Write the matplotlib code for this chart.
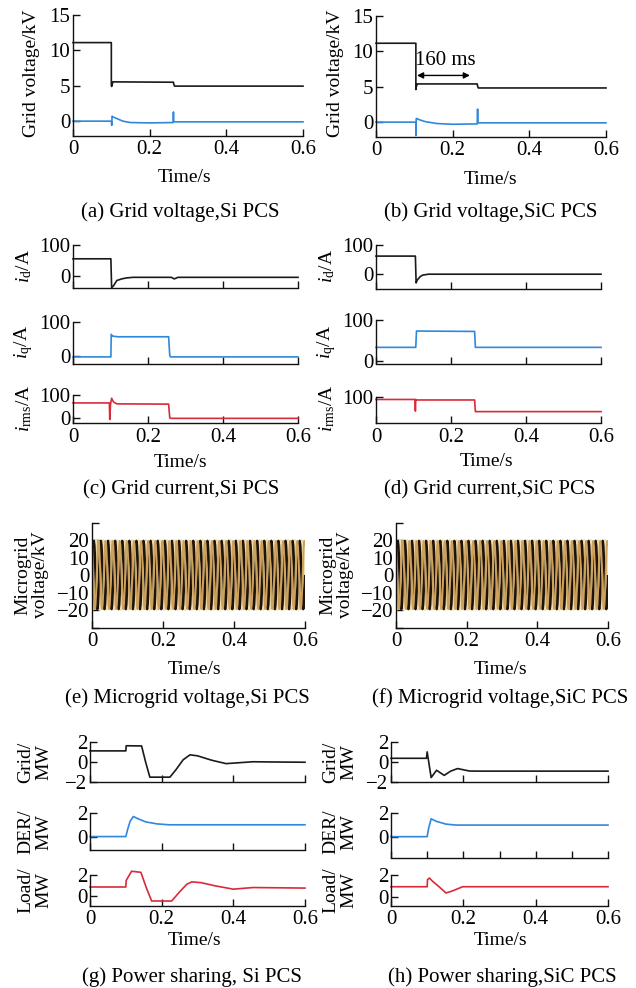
import matplotlib
matplotlib.use("Agg")
import matplotlib.pyplot as plt
import numpy as np

plt.rcParams["font.family"] = ["Liberation Serif", "DejaVu Serif"]
plt.rcParams["mathtext.fontset"] = "custom"
plt.rcParams["mathtext.rm"] = "Liberation Serif"
plt.rcParams["mathtext.it"] = "Liberation Serif:italic"
plt.rcParams["axes.unicode_minus"] = True

# ---------------------------------------------------------------- data
# (a) grid voltage, Si PCS  [s, kV]
si_vg_t = [0, 0.100, 0.100, 0.101, 0.104, 0.262, 0.263, 0.265, 0.6]
si_vg_v = [11.1, 11.1, 5.0, 4.9, 5.55, 5.5, 5.2, 4.95, 4.95]
si_vd_t = [0, 0.100, 0.101, 0.102, 0.104, 0.115, 0.13, 0.15, 0.20, 0.261, 0.262, 0.263, 0.265, 0.6]
si_vd_v = [0, 0, -0.6, 0.7, 0.6, 0.35, 0.0, -0.2, -0.25, -0.2, 1.3, -0.1, -0.1, -0.1]

# (b) grid voltage, SiC PCS
sic_vg_t = [0, 0.104, 0.104, 0.105, 0.108, 0.264, 0.265, 0.267, 0.6]
sic_vg_v = [11.15, 11.15, 4.6, 5.0, 5.4, 5.4, 5.1, 4.83, 4.83]
sic_vd_t = [0, 0.104, 0.104, 0.105, 0.107, 0.115, 0.13, 0.16, 0.20, 0.264, 0.265, 0.266, 0.268, 0.6]
sic_vd_v = [0, 0, -1.9, 0.5, 0.5, 0.3, 0.05, -0.2, -0.3, -0.25, 1.85, -0.1, -0.1, -0.1]
arrow_span_s = [0.107, 0.245]

# (c) grid current, Si PCS  [s, A]
si_id_t = [0, 0.101, 0.103, 0.108, 0.117, 0.13, 0.142, 0.16, 0.262, 0.27, 0.28, 0.6]
si_id_v = [56, 56, -36, -30, -13, -8, -5, -3, -3, -8, -3, -3]
si_iq_t = [0, 0.101, 0.102, 0.105, 0.12, 0.255, 0.258, 0.26, 0.6]
si_iq_v = [-2, -2, 63, 58, 56, 56, 2, -2, -2]
si_irms_t = [0, 0.097, 0.098, 0.100, 0.103, 0.108, 0.117, 0.255, 0.258, 0.262, 0.6]
si_irms_v = [66, 66, -5, 60, 86, 70, 62, 61, 2, 0, 0]

# (d) grid current, SiC PCS
sic_id_t = [0, 0.105, 0.107, 0.11, 0.118, 0.125, 0.14, 0.6]
sic_id_v = [62, 62, -30, -20, -8, -3, 0, 0]
sic_iq_t = [0, 0.106, 0.108, 0.263, 0.265, 0.6]
sic_iq_v = [33, 33, 73, 72, 33, 33]
sic_irms_t = [0, 0.104, 0.105, 0.106, 0.108, 0.263, 0.265, 0.6]
sic_irms_v = [92, 92, 45, 92, 90, 90, 43, 43]

# (e)/(f) microgrid three-phase voltage: one 20 ms period sampled every 30 deg  [kV]
mg_cycle_kv = [0, 9.8, 16.9, 19.5, 16.9, 9.8, 0, -9.8, -16.9, -19.5, -16.9, -9.8]
mg_period_s = 0.02
mg_cycles = 30

# (g) power sharing, Si PCS  [s, MW]
si_pg_t = [0, 0.1, 0.101, 0.144, 0.155, 0.167, 0.223, 0.24, 0.26, 0.279, 0.3, 0.34, 0.38, 0.455, 0.5, 0.6]
si_pg_v = [1.1, 1.1, 1.62, 1.6, 0.0, -1.56, -1.56, -0.8, 0.2, 0.7, 0.6, 0.15, -0.19, 0.0, -0.02, -0.05]
si_der_t = [0, 0.1, 0.105, 0.112, 0.121, 0.135, 0.155, 0.186, 0.22, 0.6]
si_der_v = [0, 0, 0.6, 1.3, 1.7, 1.5, 1.25, 1.08, 1.0, 1.0]
si_load_t = [0, 0.1, 0.101, 0.116, 0.142, 0.157, 0.172, 0.228, 0.25, 0.27, 0.284, 0.31, 0.35, 0.4, 0.455, 0.6]
si_load_v = [0.85, 0.85, 1.45, 2.3, 2.2, 0.8, -0.44, -0.44, 0.4, 1.1, 1.32, 1.25, 0.95, 0.65, 0.8, 0.75]

# (h) power sharing, SiC PCS
sic_pg_t = [0, 0.098, 0.1, 0.111, 0.126, 0.147, 0.165, 0.184, 0.217, 0.25, 0.6]
sic_pg_v = [0.35, 0.35, 1.0, -1.6, -0.86, -1.38, -0.95, -0.69, -0.94, -0.95, -0.95]
sic_der_t = [0, 0.1, 0.104, 0.111, 0.125, 0.152, 0.18, 0.6]
sic_der_v = [0, 0, 0.7, 1.51, 1.3, 1.06, 0.98, 0.98]
sic_load_t = [0, 0.1, 0.101, 0.106, 0.115, 0.13, 0.152, 0.17, 0.198, 0.6]
sic_load_v = [0.92, 0.92, 1.54, 1.69, 1.4, 1.0, 0.37, 0.55, 0.92, 0.92]

x_ticks = [0, 0.2, 0.4, 0.6]
x_tick_labels = ["0", "0.2", "0.4", "0.6"]

captions = [
    "(a) Grid voltage,Si PCS", "(b) Grid voltage,SiC PCS",
    "(c) Grid current,Si PCS", "(d) Grid current,SiC PCS",
    "(e) Microgrid voltage,Si PCS", "(f) Microgrid voltage,SiC PCS",
    "(g) Power sharing, Si PCS", "(h) Power sharing,SiC PCS",
]

# ---------------------------------------------------------------- style
BLACK = "#1a1a1a"
BLUE = "#2f88dc"
RED = "#d92a3a"
# phases in drawing order
MG_COLORS = ["#f0ddb0", "#1c140a", "#cda05c"]
MG_LW = [2.4, 1.8, 1.4]
TICK_FS = 15
LABEL_FS = 14
CAP_FS = 15
LW = 1.2

W, H = 636, 988
fig = plt.figure(figsize=(W / 100, H / 100), dpi=100)
fig.patch.set_facecolor("white")


def add_ax(l, r, t, b):
    return fig.add_axes([l / W, 1 - b / H, (r - l) / W, (b - t) / H])


def style(ax, ylim, yticks, ylabels=None, xlabels=True, xticks=x_ticks):
    ax.set_xlim(0, 0.6)
    ax.set_ylim(*ylim)
    for s in ("top", "right"):
        ax.spines[s].set_visible(False)
    for s in ("left", "bottom"):
        ax.spines[s].set_linewidth(1.0)
        ax.spines[s].set_color("#111111")
    ax.set_xticks(xticks)
    ax.set_yticks(yticks)
    if ylabels is not None:
        ax.set_yticklabels(ylabels)
    if xlabels:
        ax.set_xticklabels(x_tick_labels)
    else:
        ax.set_xticklabels([])
    ax.tick_params(axis="both", direction="in", length=5, width=1.0,
                   labelsize=TICK_FS, color="#111111")
    ax.tick_params(axis="y", pad=2)
    ax.tick_params(axis="x", pad=3)
    ax.patch.set_alpha(0)


def trace(ax, t, v, color):
    ax.plot(t, v, color=color, lw=LW, clip_on=False)


def ftext(x, y, s, **kw):
    fig.text(x / W, 1 - y / H, s, ha="center", va="center", **kw)


# (a)
ax = add_ax(73, 303, 15, 136)
trace(ax, si_vg_t, si_vg_v, BLACK)
trace(ax, si_vd_t, si_vd_v, BLUE)
style(ax, (-2.1, 15), [0, 5, 10, 15])
ftext(31, 73, "Grid voltage/kV", rotation=90, fontsize=LABEL_FS)
ftext(185, 177, "Time/s", fontsize=LABEL_FS)

# (b)
ax = add_ax(376, 606, 16, 137)
trace(ax, sic_vg_t, sic_vg_v, BLACK)
trace(ax, sic_vd_t, sic_vd_v, BLUE)
style(ax, (-2.1, 15), [0, 5, 10, 15])
ax.annotate("", xy=(arrow_span_s[1], 6.6), xytext=(arrow_span_s[0], 6.6),
            arrowprops=dict(arrowstyle="<|-|>", lw=1.0, color="black",
                            mutation_scale=9, shrinkA=0, shrinkB=0))
ax.text(sum(arrow_span_s) / 2 + 0.004, 8.7, "160 ms", fontsize=TICK_FS,
        ha="center", va="center")
ftext(336, 73, "Grid voltage/kV", rotation=90, fontsize=LABEL_FS)
ftext(490, 179, "Time/s", fontsize=LABEL_FS)

# (c)
ax = add_ax(73, 298, 245, 288)
trace(ax, si_id_t, si_id_v, BLACK)
style(ax, (-37, 100), [0, 100], xlabels=False)
ftext(24, 266, r"$i_{\rm d}$/A", rotation=90, fontsize=LABEL_FS)
ax = add_ax(73, 298, 321.5, 363.5)
trace(ax, si_iq_t, si_iq_v, BLUE)
style(ax, (-21, 100), [0, 100], xlabels=False)
ftext(24, 342, r"$i_{\rm q}$/A", rotation=90, fontsize=LABEL_FS)
ax = add_ax(73, 298, 395, 423.5)
trace(ax, si_irms_t, si_irms_v, RED)
style(ax, (-22, 100), [0, 100])
ftext(24, 408, r"$i_{\rm rms}$/A", rotation=90, fontsize=LABEL_FS)
ftext(180, 462, "Time/s", fontsize=LABEL_FS)

# (d)
ax = add_ax(376, 601, 245, 288.5)
trace(ax, sic_id_t, sic_id_v, BLACK)
style(ax, (-49, 100), [0, 100], xlabels=False)
ftext(327, 266, r"$i_{\rm d}$/A", rotation=90, fontsize=LABEL_FS)
ax = add_ax(376, 601, 320, 363.5)
trace(ax, sic_iq_t, sic_iq_v, BLUE)
style(ax, (-6.5, 100), [0, 100], xlabels=False)
ftext(327, 342, r"$i_{\rm q}$/A", rotation=90, fontsize=LABEL_FS)
ax = add_ax(376, 601, 397.5, 423.5)
trace(ax, sic_irms_t, sic_irms_v, RED)
style(ax, (-5, 100), [100])
ftext(327, 408, r"$i_{\rm rms}$/A", rotation=90, fontsize=LABEL_FS)
ftext(486, 461, "Time/s", fontsize=LABEL_FS)

# (e)/(f) microgrid voltage
n_pts = len(mg_cycle_kv)
mg_t = np.arange(mg_cycles * n_pts + 1) * mg_period_s / n_pts
phases = []
for shift in (4, 0, 8):
    cyc = np.roll(mg_cycle_kv, shift)
    phases.append(np.append(np.tile(cyc, mg_cycles), cyc[0]))

for (l, r, t, b, lx, tx, ty) in [(92, 305, 522.5, 627.5, 32, 195, 669),
                                 (396, 608, 522.5, 627.5, 337, 500, 669)]:
    ax = add_ax(l, r, t, b)
    for col, lw, v in zip(MG_COLORS, MG_LW, phases):
        ax.plot(mg_t, v, color=col, lw=lw, solid_capstyle="butt")
    style(ax, (-30, 30), [-30, -20, -10, 0, 10, 20, 30],
          ylabels=["", "\u221220", "\u221210", "0", "10", "20", ""])
    ftext(lx, 575, "Microgrid\nvoltage/kV", rotation=90, fontsize=LABEL_FS,
          linespacing=1.05)
    ftext(tx, ty, "Time/s", fontsize=LABEL_FS)

# (g)/(h) power sharing
panels = [
    dict(l=90, r=305, lx=35, tx=195,
         grid=(si_pg_t, si_pg_v), der=(si_der_t, si_der_v), load=(si_load_t, si_load_v),
         der_lim=(-1.14, 2), der_bottom=850, der_xt=x_ticks, load_lim=(-0.9, 2)),
    dict(l=391, r=608, lx=340, tx=500,
         grid=(sic_pg_t, sic_pg_v), der=(sic_der_t, sic_der_v), load=(sic_load_t, sic_load_v),
         der_lim=(-1.76, 2), der_bottom=857.5, der_xt=[0, 0.1, 0.2, 0.3, 0.4, 0.5, 0.6],
         load_lim=(-0.78, 2)),
]
for p in panels:
    ax = add_ax(p["l"], p["r"], 742, 782)
    trace(ax, *p["grid"], BLACK)
    style(ax, (-2.05, 2.0), [-2, 0, 2], ylabels=["\u22122", "0", "2"], xlabels=False)
    ftext(p["lx"], 762, "Grid/\nMW", rotation=90, fontsize=LABEL_FS, linespacing=1.05)

    ax = add_ax(p["l"], p["r"], 813, p["der_bottom"])
    trace(ax, *p["der"], BLUE)
    style(ax, p["der_lim"], [0, 2], xlabels=False, xticks=p["der_xt"])
    ax.set_xticklabels([])
    ftext(p["lx"], 832, "DER/\nMW", rotation=90, fontsize=LABEL_FS, linespacing=1.05)

    ax = add_ax(p["l"], p["r"], 874.5, 906)
    trace(ax, *p["load"], RED)
    style(ax, p["load_lim"], [0, 2])
    ftext(p["lx"], 890, "Load/\nMW", rotation=90, fontsize=LABEL_FS, linespacing=1.05)
    ftext(p["tx"], 940, "Time/s", fontsize=LABEL_FS)

# captions
cap_pos = [(180, 212), (491, 212), (181, 490), (490, 490),
           (187, 698), (500, 698), (192, 977), (502, 977)]
for (cx, cy), cap in zip(cap_pos, captions):
    ftext(cx, cy, cap, fontsize=CAP_FS)

fig.savefig("out.png", dpi=100, facecolor="white")
